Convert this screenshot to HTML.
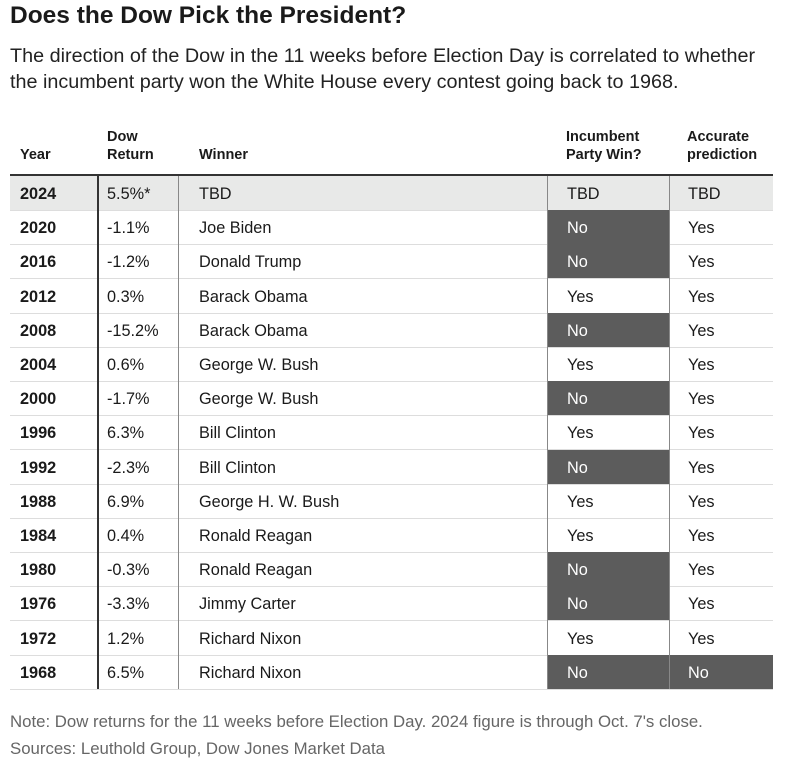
<!DOCTYPE html>
<html><head><style>
body{margin:0;width:790px;height:770px;background:#fff;font-family:"Liberation Sans",sans-serif;color:#1a1a1a;position:relative;overflow:hidden}
.a{position:absolute;white-space:nowrap}
h1{position:absolute;left:10px;top:2px;margin:0;font-size:24.5px;font-weight:bold}
.sub{position:absolute;left:10px;top:43px;font-size:19.8px;line-height:26px;color:#222;white-space:nowrap}
.h{position:absolute;font-size:14.5px;font-weight:bold;line-height:18px}
.row{position:absolute;left:10px;width:763px;height:34px;border-bottom:1px solid #ddd;font-size:16.3px}
.row span{position:absolute;top:9px}
.dk{position:absolute;top:0;height:34px;background:#5c5c5c}
.note{position:absolute;left:10px;font-size:16.8px;color:#666;white-space:nowrap}
</style></head><body>
<h1>Does the Dow Pick the President?</h1>
<div class="sub">The direction of the Dow in the 11 weeks before Election Day is correlated to whether<br>the incumbent party won the White House every contest going back to 1968.</div>
<div class="h" style="left:20px;top:146px">Year</div>
<div class="h" style="left:107px;top:128px">Dow<br>Return</div>
<div class="h" style="left:199px;top:146px">Winner</div>
<div class="h" style="left:566px;top:128px">Incumbent<br>Party Win?</div>
<div class="h" style="left:687px;top:128px">Accurate<br>prediction</div>
<div class="a" style="left:10px;top:174px;width:763px;height:2px;background:#333"></div>
<div id="t"></div>
<div class="a" style="left:97px;top:176px;width:2px;height:513px;background:#333"></div>
<div class="a" style="left:178px;top:176px;width:1px;height:513px;background:#888"></div>
<div class="a" style="left:547px;top:176px;width:1px;height:513px;background:#888"></div>
<div class="a" style="left:669px;top:176px;width:1px;height:513px;background:#888"></div>
<div class="note" style="top:712px">Note: Dow returns for the 11 weeks before Election Day. 2024 figure is through Oct. 7's close.</div>
<div class="note" style="top:739px">Sources: Leuthold Group, Dow Jones Market Data</div>
<script>
var d=[["2024","5.5%*","TBD","TBD","TBD"],["2020","-1.1%","Joe Biden","No","Yes"],["2016","-1.2%","Donald Trump","No","Yes"],["2012","0.3%","Barack Obama","Yes","Yes"],["2008","-15.2%","Barack Obama","No","Yes"],["2004","0.6%","George W. Bush","Yes","Yes"],["2000","-1.7%","George W. Bush","No","Yes"],["1996","6.3%","Bill Clinton","Yes","Yes"],["1992","-2.3%","Bill Clinton","No","Yes"],["1988","6.9%","George H. W. Bush","Yes","Yes"],["1984","0.4%","Ronald Reagan","Yes","Yes"],["1980","-0.3%","Ronald Reagan","No","Yes"],["1976","-3.3%","Jimmy Carter","No","Yes"],["1972","1.2%","Richard Nixon","Yes","Yes"],["1968","6.5%","Richard Nixon","No","No"]];
var h="";
d.forEach(function(r,i){var top=176+i*34.2;
h+='<div class="row" style="top:'+top+'px;'+(i==0?'background:#e8e9e8;':'')+'">';
if(r[3]=="No")h+='<div class="dk" style="left:537px;width:122px"></div>';
if(r[4]=="No")h+='<div class="dk" style="left:659px;width:104px"></div>';
h+='<span style="left:10px;font-weight:bold">'+r[0]+'</span><span style="left:97px">'+r[1]+'</span><span style="left:189px">'+r[2]+'</span><span style="left:557px;color:'+(r[3]=="No"?"#fff":"#1a1a1a")+'">'+r[3]+'</span><span style="left:678px;color:'+(r[4]=="No"?"#fff":"#1a1a1a")+'">'+r[4]+'</span></div>';});
document.getElementById("t").innerHTML=h;
</script>
</body></html>
